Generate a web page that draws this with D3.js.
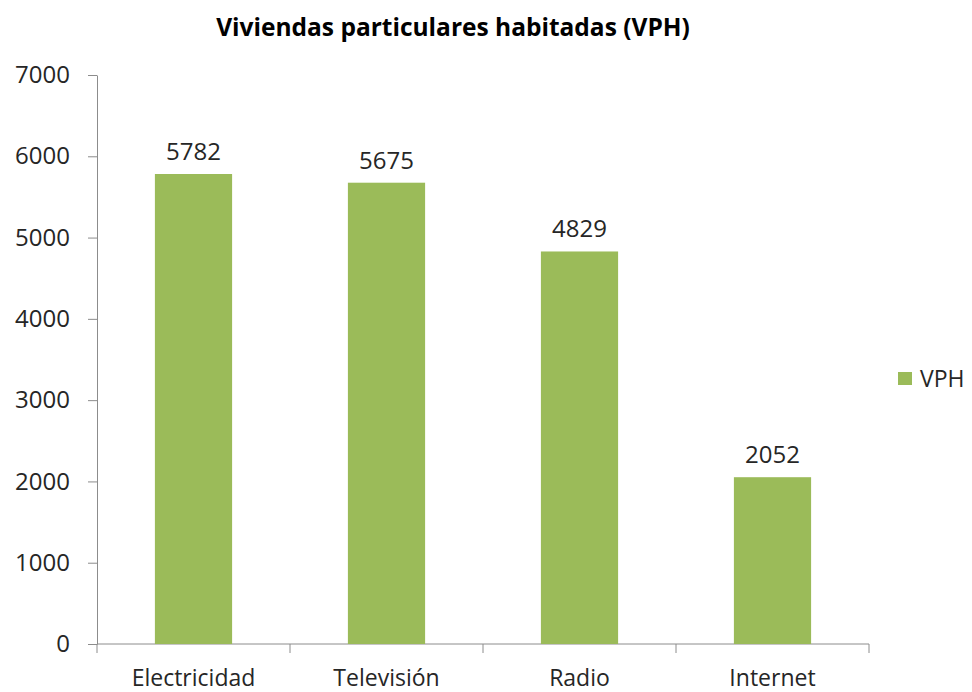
<!DOCTYPE html>
<html>
<head>
<meta charset="utf-8">
<script src="https://cdnjs.cloudflare.com/ajax/libs/d3/7.8.5/d3.min.js"></script>
<style>
  body { margin: 0; background: #fff; }
  text { font-family: "Open Sans", "Noto Sans", sans-serif; fill: #262626; }
</style>
</head>
<body>
<div id="chart"></div>
<script>
// data
const categories = ["Electricidad", "Televisión", "Radio", "Internet"];
const values = [5782, 5675, 4829, 2052];
const yTicks = [0, 1000, 2000, 3000, 4000, 5000, 6000, 7000];
const seriesName = "VPH";

const width = 972, height = 692;
const plot = {left: 97, right: 869, top: 75, bottom: 644};
const barColor = "#9bbb59";
const axisColor = "#8c8c8c";

let svg = d3.select("#chart")
    .append("svg")
    .attr("width", width)
    .attr("height", height);

let x = d3.scaleBand()
    .domain(categories)
    .range([plot.left, plot.right])
    .paddingInner(0.6)
    .paddingOuter(0.3);

let y = d3.scaleLinear()
    .domain([0, 7000])
    .range([plot.bottom, plot.top]);

// Title
svg.append("text")
    .attr("x", 453)
    .attr("y", 36)
    .style("text-anchor", "middle")
    .style("font-weight", "bold")
    .style("font-size", "24.5px")
    .style("fill", "#000")
    .text("Viviendas particulares habitadas (VPH)");

// y axis
let yAxis = svg.append("g")
    .attr("transform", `translate(${plot.left}, 0)`)
    .call(d3.axisLeft(y).tickValues(yTicks).tickFormat(d3.format("d"))
        .tickSize(9).tickSizeOuter(0).tickPadding(18));
yAxis.select(".domain").attr("stroke", axisColor);
yAxis.selectAll(".tick line").attr("stroke", axisColor);
yAxis.selectAll(".tick text")
    .style("font-size", "24px")
    .attr("fill", "#262626")
    .style("font-family", null);

// x axis: baseline plus ticks between categories (band edges)
let edges = categories.map(function(c) { return x(c) - x.step() * 0.3; });
edges.push(plot.right);
svg.append("line")
    .attr("x1", plot.left).attr("x2", plot.right)
    .attr("y1", y(0)).attr("y2", y(0))
    .attr("stroke", axisColor);
svg.selectAll(".xtick")
    .data(edges)
    .enter()
    .append("line")
    .attr("class", "xtick")
    .attr("x1", function(d) { return d; })
    .attr("x2", function(d) { return d; })
    .attr("y1", y(0))
    .attr("y2", y(0) + 9)
    .attr("stroke", axisColor);

svg.selectAll(".xlabel")
    .data(categories)
    .enter()
    .append("text")
    .attr("class", "xlabel")
    .attr("x", function(d) { return x(d) + x.bandwidth() / 2; })
    .attr("y", 686)
    .style("text-anchor", "middle")
    .style("font-size", "23px")
    .text(function(d) { return d; });

// Bars
svg.selectAll("rect.bar")
    .data(values)
    .enter()
    .append("rect")
    .attr("class", "bar")
    .attr("x", function(d, i) { return x(categories[i]); })
    .attr("y", function(d) { return y(d); })
    .attr("width", x.bandwidth())
    .attr("height", function(d) { return y(0) - y(d); })
    .attr("fill", barColor);

// Value labels
svg.selectAll(".vlabel")
    .data(values)
    .enter()
    .append("text")
    .attr("class", "vlabel")
    .attr("x", function(d, i) { return x(categories[i]) + x.bandwidth() / 2; })
    .attr("y", function(d) { return y(d) - 14; })
    .style("text-anchor", "middle")
    .style("font-size", "24px")
    .text(function(d) { return d; });

// Legend
svg.append("rect")
    .attr("x", 898)
    .attr("y", 372)
    .attr("width", 14)
    .attr("height", 13)
    .attr("fill", barColor);
svg.append("text")
    .attr("x", 920)
    .attr("y", 387)
    .style("font-size", "23px")
    .text(seriesName);
</script>
</body>
</html>
